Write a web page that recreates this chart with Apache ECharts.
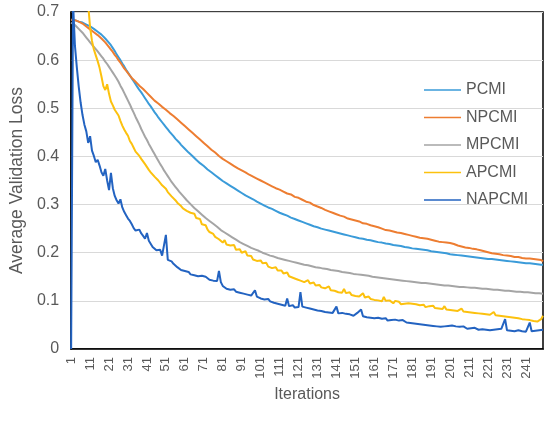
<!DOCTYPE html>
<html>
<head>
<meta charset="utf-8">
<title>Average Validation Loss</title>
<script src="https://cdn.jsdelivr.net/npm/echarts@6/dist/echarts.min.js"></script>
<style>
  html, body { margin: 0; padding: 0; background: #fff; }
  #chart { width: 550px; height: 422px; }
</style>
</head>
<body>
<div id="chart"></div>
<script>
// iterations 1..250 on the category axis
const iterations = Array.from({ length: 250 }, (_, i) => String(i + 1));

const yTicks = [0, 0.1, 0.2, 0.3, 0.4, 0.5, 0.6, 0.7];

const seriesNames = ["PCMI", "NPCMI", "MPCMI", "APCMI", "NAPCMI"];

const pcmi = [
  0.684, 0.684, 0.683, 0.682, 0.680, 0.679, 0.678, 0.676, 0.674, 0.672,
  0.670, 0.668, 0.665, 0.662, 0.659, 0.656, 0.653, 0.649, 0.645, 0.641,
  0.636, 0.631, 0.625, 0.619, 0.612, 0.606, 0.600, 0.593, 0.587, 0.580,
  0.574, 0.568, 0.562, 0.556, 0.550, 0.544, 0.538, 0.533, 0.527, 0.521,
  0.515, 0.509, 0.504, 0.498, 0.492, 0.487, 0.481, 0.476, 0.471, 0.466,
  0.461, 0.456, 0.451, 0.447, 0.442, 0.437, 0.433, 0.429, 0.424, 0.420,
  0.416, 0.412, 0.408, 0.404, 0.401, 0.397, 0.393, 0.390, 0.386, 0.383,
  0.380, 0.377, 0.373, 0.370, 0.367, 0.364, 0.361, 0.358, 0.355, 0.352,
  0.349, 0.346, 0.344, 0.341, 0.339, 0.336, 0.334, 0.331, 0.329, 0.326,
  0.324, 0.322, 0.319, 0.317, 0.315, 0.313, 0.311, 0.308, 0.306, 0.304,
  0.302, 0.300, 0.298, 0.296, 0.294, 0.293, 0.291, 0.289, 0.287, 0.285,
  0.283, 0.282, 0.280, 0.278, 0.277, 0.275, 0.273, 0.272, 0.270, 0.268,
  0.267, 0.265, 0.264, 0.262, 0.261, 0.260, 0.258, 0.257, 0.255, 0.254,
  0.253, 0.252, 0.250, 0.249, 0.248, 0.247, 0.246, 0.245, 0.244, 0.243,
  0.242, 0.241, 0.240, 0.239, 0.238, 0.237, 0.236, 0.235, 0.234, 0.233,
  0.232, 0.231, 0.230, 0.230, 0.229, 0.228, 0.227, 0.226, 0.226, 0.225,
  0.224, 0.223, 0.222, 0.222, 0.221, 0.220, 0.219, 0.219, 0.218, 0.217,
  0.216, 0.216, 0.215, 0.214, 0.214, 0.213, 0.212, 0.212, 0.211, 0.210,
  0.209, 0.209, 0.208, 0.208, 0.207, 0.206, 0.206, 0.205, 0.205, 0.204,
  0.203, 0.203, 0.202, 0.202, 0.201, 0.200, 0.200, 0.199, 0.199, 0.198,
  0.197, 0.197, 0.196, 0.196, 0.195, 0.195, 0.194, 0.194, 0.193, 0.193,
  0.192, 0.192, 0.191, 0.191, 0.190, 0.190, 0.189, 0.189, 0.188, 0.188,
  0.187, 0.187, 0.187, 0.186, 0.186, 0.185, 0.185, 0.185, 0.184, 0.184,
  0.183, 0.183, 0.182, 0.182, 0.181, 0.181, 0.180, 0.180, 0.179, 0.179,
  0.178, 0.178, 0.178, 0.177, 0.177, 0.176, 0.176, 0.176, 0.175, 0.175
];

const npcmi = [
  0.684, 0.684, 0.683, 0.682, 0.680, 0.678, 0.676, 0.673, 0.670, 0.667,
  0.664, 0.661, 0.658, 0.655, 0.652, 0.648, 0.645, 0.641, 0.637, 0.633,
  0.627, 0.622, 0.617, 0.611, 0.606, 0.600, 0.595, 0.589, 0.583, 0.578,
  0.573, 0.568, 0.563, 0.559, 0.555, 0.551, 0.547, 0.543, 0.540, 0.536,
  0.532, 0.528, 0.524, 0.520, 0.516, 0.513, 0.510, 0.506, 0.503, 0.500,
  0.497, 0.493, 0.490, 0.487, 0.484, 0.480, 0.477, 0.473, 0.470, 0.466,
  0.463, 0.459, 0.456, 0.452, 0.449, 0.445, 0.442, 0.438, 0.435, 0.431,
  0.428, 0.425, 0.421, 0.418, 0.414, 0.411, 0.408, 0.404, 0.401, 0.397,
  0.395, 0.392, 0.390, 0.387, 0.385, 0.383, 0.380, 0.378, 0.375, 0.373,
  0.371, 0.369, 0.367, 0.365, 0.362, 0.360, 0.358, 0.356, 0.354, 0.352,
  0.350, 0.349, 0.346, 0.343, 0.342, 0.341, 0.338, 0.335, 0.334, 0.332,
  0.331, 0.328, 0.327, 0.326, 0.323, 0.322, 0.321, 0.318, 0.316, 0.315,
  0.314, 0.311, 0.310, 0.309, 0.306, 0.305, 0.304, 0.301, 0.299, 0.298,
  0.296, 0.294, 0.293, 0.290, 0.289, 0.289, 0.286, 0.284, 0.283, 0.282,
  0.280, 0.280, 0.277, 0.275, 0.275, 0.273, 0.271, 0.271, 0.269, 0.268,
  0.267, 0.265, 0.265, 0.263, 0.261, 0.262, 0.260, 0.257, 0.257, 0.256,
  0.255, 0.253, 0.253, 0.251, 0.250, 0.250, 0.247, 0.247, 0.246, 0.245,
  0.244, 0.244, 0.242, 0.240, 0.241, 0.239, 0.239, 0.237, 0.237, 0.236,
  0.235, 0.235, 0.233, 0.233, 0.231, 0.232, 0.230, 0.229, 0.229, 0.228,
  0.227, 0.227, 0.225, 0.225, 0.223, 0.224, 0.222, 0.221, 0.221, 0.220,
  0.220, 0.218, 0.218, 0.216, 0.215, 0.216, 0.213, 0.213, 0.211, 0.211,
  0.210, 0.210, 0.208, 0.207, 0.207, 0.205, 0.205, 0.203, 0.203, 0.202,
  0.201, 0.201, 0.199, 0.199, 0.198, 0.196, 0.197, 0.195, 0.195, 0.194,
  0.194, 0.192, 0.193, 0.191, 0.191, 0.189, 0.191, 0.188, 0.189, 0.187,
  0.188, 0.186, 0.188, 0.185, 0.187, 0.183, 0.186, 0.182, 0.185, 0.182
];

const mpcmi = [
  0.678, 0.676, 0.673, 0.669, 0.665, 0.661, 0.657, 0.652, 0.647, 0.642,
  0.637, 0.632, 0.628, 0.623, 0.618, 0.613, 0.608, 0.603, 0.597, 0.592,
  0.586, 0.580, 0.574, 0.568, 0.562, 0.555, 0.547, 0.540, 0.532, 0.524,
  0.516, 0.508, 0.499, 0.491, 0.482, 0.474, 0.466, 0.457, 0.449, 0.441,
  0.434, 0.426, 0.419, 0.412, 0.405, 0.398, 0.391, 0.384, 0.378, 0.371,
  0.365, 0.359, 0.353, 0.347, 0.342, 0.337, 0.332, 0.327, 0.323, 0.318,
  0.314, 0.309, 0.305, 0.301, 0.297, 0.293, 0.289, 0.286, 0.282, 0.279,
  0.276, 0.272, 0.269, 0.266, 0.263, 0.260, 0.257, 0.254, 0.250, 0.247,
  0.244, 0.242, 0.239, 0.237, 0.234, 0.232, 0.229, 0.227, 0.225, 0.222,
  0.220, 0.218, 0.216, 0.214, 0.212, 0.210, 0.209, 0.207, 0.205, 0.204,
  0.202, 0.200, 0.199, 0.197, 0.196, 0.194, 0.193, 0.192, 0.190, 0.189,
  0.188, 0.187, 0.186, 0.185, 0.184, 0.183, 0.182, 0.181, 0.180, 0.179,
  0.178, 0.177, 0.176, 0.175, 0.174, 0.174, 0.173, 0.172, 0.171, 0.170,
  0.169, 0.169, 0.168, 0.167, 0.166, 0.166, 0.165, 0.164, 0.164, 0.163,
  0.162, 0.162, 0.161, 0.160, 0.160, 0.159, 0.158, 0.158, 0.157, 0.156,
  0.156, 0.155, 0.155, 0.154, 0.153, 0.153, 0.152, 0.152, 0.151, 0.150,
  0.150, 0.149, 0.149, 0.148, 0.148, 0.147, 0.147, 0.146, 0.146, 0.145,
  0.145, 0.144, 0.144, 0.143, 0.143, 0.142, 0.142, 0.141, 0.141, 0.140,
  0.140, 0.139, 0.139, 0.138, 0.138, 0.137, 0.137, 0.137, 0.136, 0.136,
  0.135, 0.135, 0.134, 0.134, 0.134, 0.133, 0.133, 0.132, 0.132, 0.132,
  0.131, 0.131, 0.130, 0.130, 0.130, 0.129, 0.129, 0.129, 0.128, 0.128,
  0.128, 0.127, 0.127, 0.127, 0.126, 0.126, 0.126, 0.125, 0.125, 0.125,
  0.124, 0.124, 0.124, 0.123, 0.123, 0.123, 0.122, 0.122, 0.122, 0.121,
  0.121, 0.121, 0.120, 0.120, 0.120, 0.119, 0.119, 0.119, 0.118, 0.118,
  0.118, 0.118, 0.117, 0.117, 0.117, 0.116, 0.116, 0.116, 0.115, 0.115
];

// first iterations of APCMI lie above the 0.7 axis top and are clipped
const apcmi = [
  0.980, 0.950, 0.920, 0.890, 0.860, 0.830, 0.800, 0.770, 0.745, 0.715,
  0.668, 0.640, 0.622, 0.610, 0.598, 0.584, 0.566, 0.546, 0.538, 0.550,
  0.530, 0.514, 0.506, 0.497, 0.494, 0.485, 0.474, 0.464, 0.456, 0.449,
  0.443, 0.432, 0.426, 0.418, 0.410, 0.412, 0.401, 0.395, 0.391, 0.384,
  0.380, 0.372, 0.367, 0.365, 0.358, 0.355, 0.350, 0.348, 0.340, 0.336,
  0.333, 0.326, 0.322, 0.317, 0.318, 0.309, 0.304, 0.300, 0.297, 0.292,
  0.290, 0.287, 0.291, 0.283, 0.279, 0.281, 0.272, 0.268, 0.270, 0.259,
  0.255, 0.257, 0.248, 0.243, 0.246, 0.239, 0.233, 0.236, 0.228, 0.224,
  0.221, 0.226, 0.217, 0.213, 0.215, 0.211, 0.216, 0.206, 0.204, 0.207,
  0.200, 0.198, 0.203, 0.194, 0.190, 0.193, 0.186, 0.188, 0.183, 0.179,
  0.184, 0.178, 0.175, 0.179, 0.171, 0.173, 0.168, 0.164, 0.170, 0.163,
  0.160, 0.163, 0.157, 0.155, 0.159, 0.151, 0.153, 0.148, 0.150, 0.145,
  0.147, 0.142, 0.145, 0.139, 0.141, 0.143, 0.136, 0.134, 0.138, 0.132,
  0.130, 0.133, 0.128, 0.131, 0.126, 0.124, 0.130, 0.122, 0.125, 0.121,
  0.123, 0.118, 0.121, 0.117, 0.125, 0.116, 0.114, 0.118, 0.112, 0.115,
  0.110, 0.113, 0.109, 0.111, 0.116, 0.107, 0.105, 0.109, 0.104, 0.106,
  0.102, 0.106, 0.101, 0.103, 0.099, 0.108, 0.100, 0.097, 0.101, 0.098,
  0.095, 0.100, 0.096, 0.098, 0.093, 0.097, 0.094, 0.091, 0.095, 0.092,
  0.094, 0.090, 0.093, 0.097, 0.091, 0.088, 0.092, 0.087, 0.090, 0.089,
  0.086, 0.090, 0.085, 0.088, 0.084, 0.087, 0.083, 0.089, 0.082, 0.084,
  0.081, 0.085, 0.080, 0.083, 0.079, 0.081, 0.084, 0.078, 0.080, 0.077,
  0.079, 0.076, 0.080, 0.075, 0.077, 0.074, 0.078, 0.073, 0.076, 0.072,
  0.075, 0.071, 0.074, 0.077, 0.070, 0.072, 0.069, 0.073, 0.068, 0.071,
  0.067, 0.070, 0.066, 0.069, 0.065, 0.068, 0.064, 0.066, 0.062, 0.065,
  0.061, 0.064, 0.060, 0.062, 0.058, 0.061, 0.057, 0.055, 0.062, 0.069
];

const napcmi = [
  0.000, 0.720, 0.630, 0.585, 0.545, 0.512, 0.486, 0.466, 0.452, 0.428,
  0.442, 0.412, 0.401, 0.388, 0.393, 0.381, 0.367, 0.360, 0.374, 0.350,
  0.330, 0.366, 0.334, 0.318, 0.309, 0.302, 0.311, 0.294, 0.285, 0.278,
  0.271, 0.266, 0.259, 0.251, 0.246, 0.243, 0.248, 0.240, 0.235, 0.229,
  0.241, 0.225, 0.221, 0.212, 0.216, 0.205, 0.201, 0.206, 0.194, 0.196,
  0.237, 0.185, 0.181, 0.182, 0.177, 0.174, 0.170, 0.166, 0.164, 0.160,
  0.162, 0.158, 0.160, 0.155, 0.157, 0.153, 0.156, 0.151, 0.149, 0.152,
  0.148, 0.150, 0.146, 0.144, 0.147, 0.142, 0.145, 0.141, 0.162, 0.139,
  0.131, 0.127, 0.125, 0.128, 0.123, 0.121, 0.124, 0.119, 0.121, 0.117,
  0.119, 0.115, 0.118, 0.113, 0.115, 0.111, 0.113, 0.122, 0.109, 0.107,
  0.105, 0.108, 0.103, 0.101, 0.104, 0.099, 0.100, 0.096, 0.098, 0.094,
  0.096, 0.092, 0.094, 0.090, 0.105, 0.089, 0.087, 0.091, 0.086, 0.088,
  0.087, 0.118, 0.088, 0.084, 0.086, 0.082, 0.084, 0.080, 0.082, 0.078,
  0.080, 0.076, 0.079, 0.075, 0.077, 0.074, 0.076, 0.073, 0.075, 0.077,
  0.088, 0.074, 0.072, 0.075, 0.071, 0.073, 0.070, 0.072, 0.074, 0.069,
  0.071, 0.075, 0.079, 0.082, 0.068, 0.070, 0.066, 0.069, 0.065, 0.067,
  0.064, 0.062, 0.065, 0.061, 0.063, 0.060, 0.064, 0.059, 0.062, 0.060,
  0.058, 0.061, 0.057, 0.059, 0.056, 0.060, 0.057, 0.055, 0.058, 0.054,
  0.056, 0.053, 0.055, 0.052, 0.054, 0.051, 0.055, 0.050, 0.052, 0.049,
  0.051, 0.048, 0.052, 0.047, 0.049, 0.046, 0.050, 0.047, 0.045, 0.048,
  0.046, 0.049, 0.045, 0.047, 0.044, 0.046, 0.043, 0.047, 0.044, 0.042,
  0.045, 0.043, 0.041, 0.044, 0.042, 0.040, 0.043, 0.041, 0.044, 0.040,
  0.042, 0.039, 0.043, 0.040, 0.038, 0.041, 0.039, 0.042, 0.040, 0.062,
  0.039, 0.036, 0.038, 0.035, 0.037, 0.036, 0.039, 0.035, 0.037, 0.034,
  0.036, 0.039, 0.055, 0.037, 0.035, 0.038, 0.036, 0.039, 0.037, 0.040
];

const seriesValues = [pcmi, npcmi, mpcmi, apcmi, napcmi];
const seriesColors = ["#3a9bd9", "#ed7d31", "#a5a5a5", "#fcc10e", "#2363c1"];

const textColor = "#595959";
const fontFamily = "'Liberation Sans', Arial, sans-serif";

const chart = echarts.init(document.getElementById("chart"), null, { renderer: "canvas" });

const option = {
  animation: false,
  backgroundColor: "#fff",
  textStyle: { fontFamily: fontFamily },
  grid: {
    left: 67,
    right: 7,
    top: 12,
    bottom: 73,
    show: true,
    borderColor: "#000",
    borderWidth: 1.5,
  },
  legend: {
    data: seriesNames,
    orient: "vertical",
    left: 419,
    top: 77,
    itemWidth: 37,
    itemHeight: 15,
    itemGap: 11.5,
    icon: "path://M0,7 L37,7 L37,8.5 L0,8.5 Z",
    textStyle: { color: textColor, fontSize: 16, fontFamily: fontFamily },
  },
  xAxis: {
    type: "category",
    data: iterations,
    boundaryGap: false,
    name: "Iterations",
    nameLocation: "middle",
    nameGap: 34,
    nameTextStyle: { color: textColor, fontSize: 16, fontFamily: fontFamily },
    axisLine: { show: true, lineStyle: { color: "#000", width: 1.5 } },
    axisTick: { show: false },
    axisLabel: {
      interval: 9,
      rotate: 90,
      margin: 8,
      color: textColor,
      fontSize: 13,
      fontFamily: fontFamily,
    },
    splitLine: { show: false },
  },
  yAxis: {
    type: "value",
    min: yTicks[0],
    max: yTicks[yTicks.length - 1],
    interval: 0.1,
    name: "Average Validation Loss",
    nameLocation: "middle",
    nameRotate: 90,
    nameGap: 35,
    nameTextStyle: { color: textColor, fontSize: 17.5, fontFamily: fontFamily },
    axisLine: { show: true, lineStyle: { color: "#000", width: 1.5 } },
    axisTick: { show: false },
    axisLabel: {
      color: textColor,
      fontSize: 16,
      margin: 12,
      fontFamily: fontFamily,
      formatter: (v) => String(Math.round(v * 10) / 10),
    },
    splitLine: { show: true, lineStyle: { color: "#d9d9d9", width: 1 } },
  },
  series: seriesNames.map((name, k) => ({
    name: name,
    type: "line",
    data: seriesValues[k],
    symbol: "none",
    clip: true,
    lineStyle: { color: seriesColors[k], width: 2 },
    itemStyle: { color: seriesColors[k] },
  })),
};

chart.setOption(option);
</script>
</body>
</html>
